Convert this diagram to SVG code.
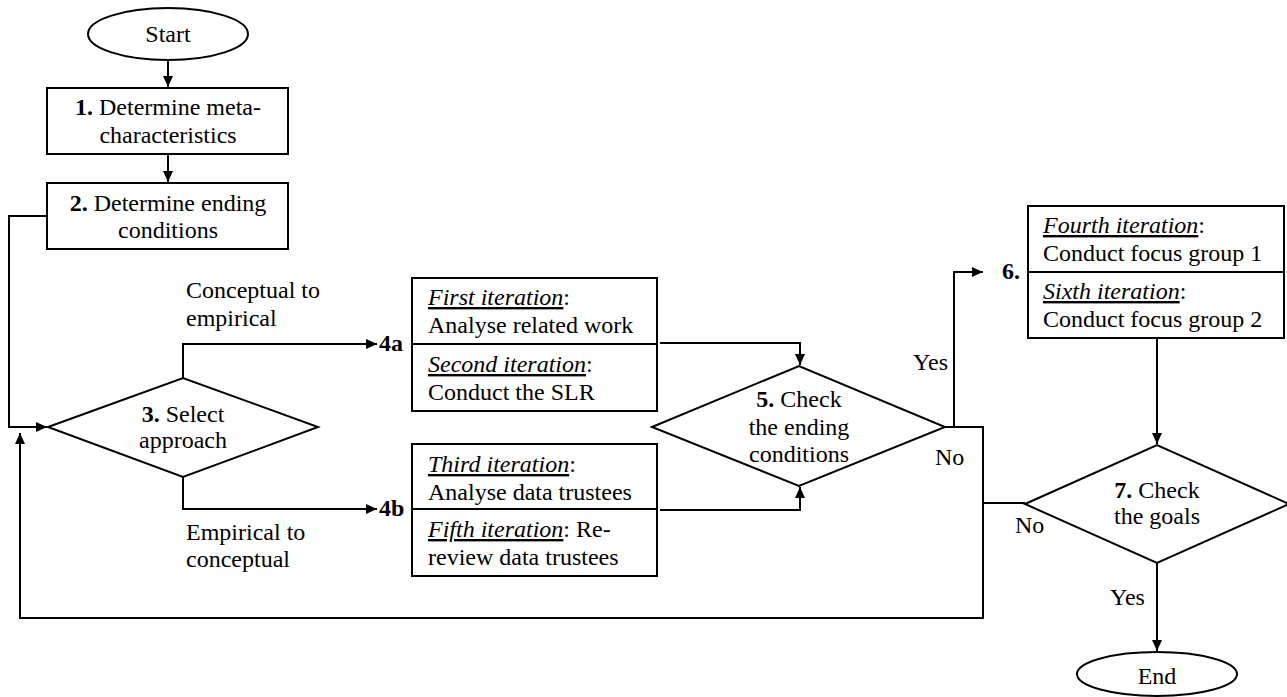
<svg xmlns="http://www.w3.org/2000/svg" width="1287" height="697" viewBox="0 0 1287 697">
<style>
  .s { fill: #fff; stroke: #000; stroke-width: 2; }
  .c { fill: none; stroke: #000; stroke-width: 2; }
  text { font-family: "Liberation Serif", "Times New Roman", serif; font-size: 24px; fill: #000; }
  .m { text-anchor: middle; }
  .b { font-weight: bold; }
  .u { font-style: italic; text-decoration: underline; }
</style>
<defs>
  <marker id="ah" markerUnits="userSpaceOnUse" markerWidth="12" markerHeight="10" refX="11" refY="5" orient="auto">
    <path d="M0,0 L11,5 L0,10 z" fill="#000"/>
  </marker>
</defs>
<rect width="1287" height="697" fill="#fff"/>

<g id="connectors">
  <path class="c" d="M168,60 V87" marker-end="url(#ah)"/>
  <path class="c" d="M168,154 V182" marker-end="url(#ah)"/>
  <path class="c" d="M47,216 H9 V427 H47" marker-end="url(#ah)"/>
  <path class="c" d="M183,378 V344 H377" marker-end="url(#ah)"/>
  <path class="c" d="M183,477 V509 H377" marker-end="url(#ah)"/>
  <path class="c" d="M660,343 H800 V365" marker-end="url(#ah)"/>
  <path class="c" d="M660,510 H800 V487" marker-end="url(#ah)"/>
  <path class="c" d="M945,427 H954 V272 H983" marker-end="url(#ah)"/>
  <path class="c" d="M954,427 H983 V618 H20 V433" marker-end="url(#ah)"/>
  <path class="c" d="M1025,503 H983"/>
  <path class="c" d="M1157,338 V444" marker-end="url(#ah)"/>
  <path class="c" d="M1157,563 V651" marker-end="url(#ah)"/>
</g>

<g id="labels">
  <text x="186" y="298">Conceptual to</text>
  <text x="186" y="326">empirical</text>
  <text x="186" y="540">Empirical to</text>
  <text x="186" y="567">conceptual</text>
  <text x="379" y="351" class="b">4a</text>
  <text x="379" y="516" class="b">4b</text>
  <text x="1002" y="279" class="b">6.</text>
  <text x="948" y="370" text-anchor="end">Yes</text>
  <text x="935" y="465">No</text>
  <text x="1015" y="533">No</text>
  <text x="1110" y="605">Yes</text>
</g>

<g id="start">
  <ellipse class="s" cx="168" cy="34" rx="80" ry="26"/>
  <text x="168" y="42" class="m">Start</text>
</g>

<g id="step1">
  <rect class="s" x="47" y="88" width="241" height="66"/>
  <text x="168" y="115" class="m"><tspan class="b">1.</tspan> Determine meta-</text>
  <text x="168" y="143" class="m">characteristics</text>
</g>

<g id="step2">
  <rect class="s" x="47" y="183" width="241" height="66"/>
  <text x="168" y="211" class="m"><tspan class="b">2.</tspan> Determine ending</text>
  <text x="168" y="238" class="m">conditions</text>
</g>

<g id="step3">
  <polygon class="s" points="48,427 183,378 318,427 183,477"/>
  <text x="183" y="422" class="m"><tspan class="b">3.</tspan> Select</text>
  <text x="183" y="448" class="m">approach</text>
</g>

<g id="step4a">
  <rect class="s" x="412" y="278" width="245" height="133"/>
  <line class="c" x1="412" y1="344" x2="657" y2="344"/>
  <text x="428" y="305"><tspan class="u">First iteration</tspan>:</text>
  <text x="428" y="333">Analyse related work</text>
  <text x="428" y="372"><tspan class="u">Second iteration</tspan>:</text>
  <text x="428" y="400">Conduct the SLR</text>
</g>

<g id="step4b">
  <rect class="s" x="412" y="444" width="245" height="132"/>
  <line class="c" x1="412" y1="509" x2="657" y2="509"/>
  <text x="428" y="472"><tspan class="u">Third iteration</tspan>:</text>
  <text x="428" y="500">Analyse data trustees</text>
  <text x="428" y="537"><tspan class="u">Fifth iteration</tspan>: Re-</text>
  <text x="428" y="565">review data trustees</text>
</g>

<g id="step5">
  <polygon class="s" points="652,427 799,366 945,427 799,486"/>
  <text x="799" y="407" class="m"><tspan class="b">5.</tspan> Check</text>
  <text x="799" y="435" class="m">the ending</text>
  <text x="799" y="462" class="m">conditions</text>
</g>

<g id="step6">
  <rect class="s" x="1028" y="206" width="256" height="132"/>
  <line class="c" x1="1028" y1="272" x2="1284" y2="272"/>
  <text x="1043" y="233"><tspan class="u">Fourth iteration</tspan>:</text>
  <text x="1043" y="261">Conduct focus group 1</text>
  <text x="1043" y="299"><tspan class="u">Sixth iteration</tspan>:</text>
  <text x="1043" y="327">Conduct focus group 2</text>
</g>

<g id="step7">
  <polygon class="s" points="1025,504 1157,445 1289,504 1157,563"/>
  <text x="1157" y="498" class="m"><tspan class="b">7.</tspan> Check</text>
  <text x="1157" y="524" class="m">the goals</text>
</g>

<g id="end">
  <ellipse class="s" cx="1157" cy="674" rx="80" ry="22"/>
  <text x="1157" y="684" class="m">End</text>
</g>
</svg>
